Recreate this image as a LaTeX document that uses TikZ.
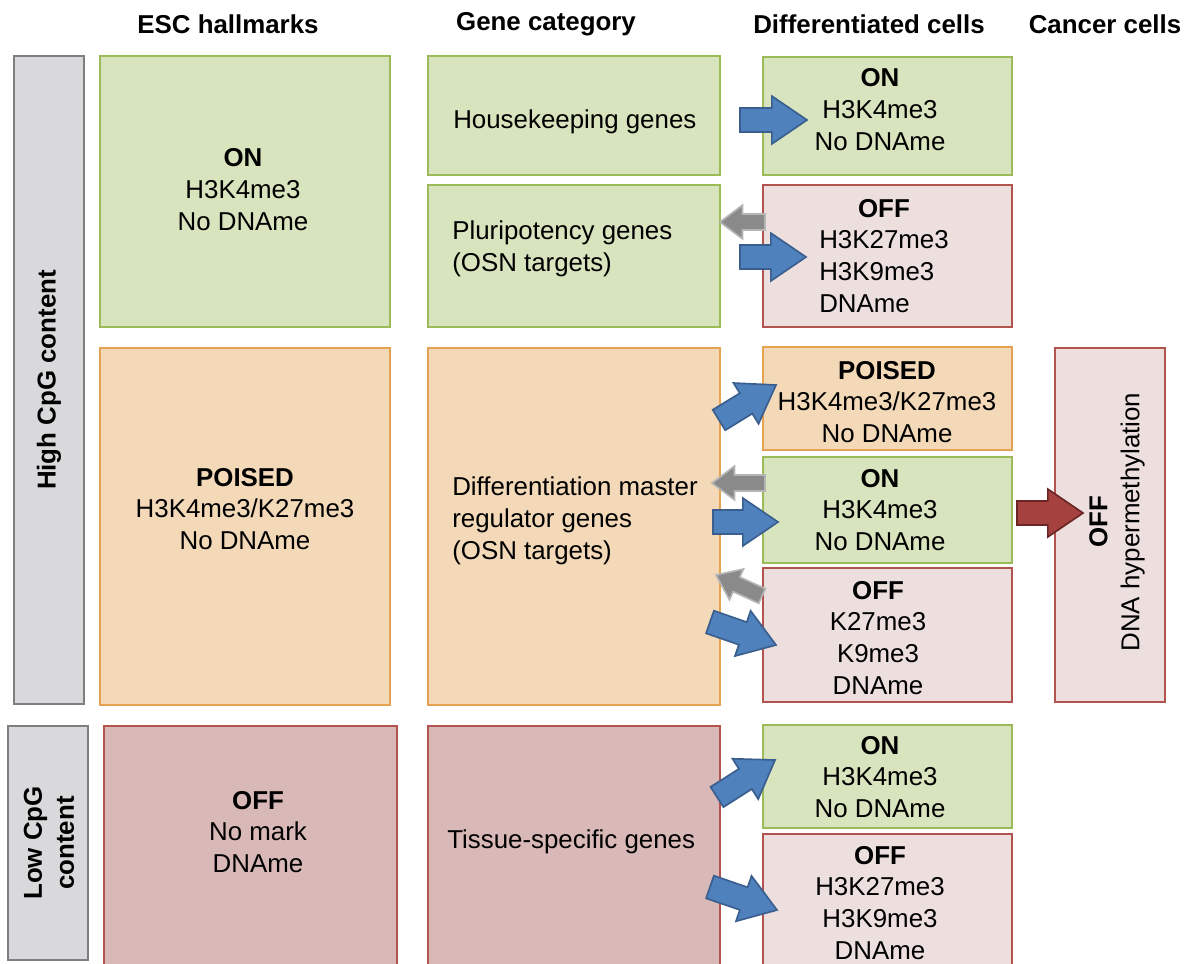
\documentclass[tikz,border=0pt]{standalone}
\usepackage{fontspec}
\setmainfont{Liberation Sans}
\usetikzlibrary{calc, fit}

\definecolor{grnfill}{HTML}{D7E4BD}
\definecolor{grnline}{HTML}{9BBB59}
\definecolor{orgfill}{HTML}{F3D9B8}
\definecolor{orgline}{HTML}{E5A250}
\definecolor{redfill}{HTML}{D9B9B7}
\definecolor{pinkfill}{HTML}{EDDFDE}
\definecolor{redline}{HTML}{B3534F}
\definecolor{barfill}{HTML}{D9D9DC}
\definecolor{barline}{HTML}{7F7F7F}
\definecolor{bluefill}{HTML}{4F81BD}
\definecolor{blueline}{HTML}{3A5F8F}
\definecolor{grayfill}{HTML}{8A8A8A}
\definecolor{grayline}{HTML}{B5B5B5}
\definecolor{darkred}{HTML}{A5423F}
\definecolor{darkredline}{HTML}{6B2624}

\newcommand{\bodyfont}{\fontsize{18.4}{22.7}\selectfont}

% block arrow: style, from, to, shaft half width, head half width, head length
\newcommand{\blkarrow}[6]{%
  \coordinate (hd) at ($(#3)!#6!(#2)$);
  \draw[#1] ($(#2)!#4!90:(#3)$) -- ($(hd)!#4!90:(#3)$) -- ($(hd)!#5!90:(#3)$) -- (#3)
    -- ($(hd)!#5!-90:(#3)$) -- ($(hd)!#4!-90:(#3)$) -- ($(#2)!#4!-90:(#3)$) -- cycle;}

\begin{document}
\begin{tikzpicture}[x=0.025cm, y=-0.025cm,
    box/.style={draw, rectangle, line width=2pt, inner sep=0pt},
    greenbox/.style={box, draw=grnline, fill=grnfill},
    orangebox/.style={box, draw=orgline, fill=orgfill},
    redbox/.style={box, draw=redline, fill=redfill},
    pinkbox/.style={box, draw=redline, fill=pinkfill},
    barbox/.style={box, draw=barline, fill=barfill},
    txt/.style={align=center, inner sep=0pt, font=\bodyfont},
    hdr/.style={inner sep=0pt, font=\bodyfont\bfseries},
    bluearr/.style={draw=blueline, fill=bluefill, line width=1.2pt, line join=miter},
    grayarr/.style={draw=grayline, fill=grayfill, line width=1.2pt, line join=miter},
    redarr/.style={draw=darkredline, fill=darkred, line width=1.2pt, line join=miter}]

  \useasboundingbox (0,0) rectangle (1194,963);
  \clip (0,0) rectangle (1194,963);

  % column headers
  \node[hdr] (h1) at (228,24) {ESC hallmarks};
  \node[hdr] (h2) at (546,24) {Gene category};
  \node[hdr] (h3) at (869,24) {Differentiated cells};
  \node[hdr] (h4) at (1105,24) {Cancer cells};

  % CpG bars
  \node[barbox, fit={(14,56) (84,704)}] (highbar) {};
  \node[barbox, fit={(8,726) (88,960)}] (lowbar) {};
  \node[hdr, rotate=90] (hight) at (49,380) {High CpG content};
  \node[hdr, rotate=90, align=center] (lowt) at (49,843) {Low CpG\\content};

  % ESC hallmarks
  \node[greenbox, fit={(100,56) (390,327)}] (escon) {};
  \node[orangebox, fit={(100,348) (390,705)}] (escpo) {};
  \node[redbox, fit={(104,726) (397,980)}] (escoff) {};
  \node[txt] (escon-t) at (243,190) {\textbf{ON}\\H3K4me3\\No DNAme};
  \node[txt] (escpo-t) at (245,509) {\textbf{POISED}\\H3K4me3/K27me3\\No DNAme};
  \node[txt] (escoff-t) at (258,832) {\textbf{OFF}\\No mark\\DNAme};

  % gene categories
  \node[greenbox, fit={(428,56) (720,175)}] (hk) {};
  \node[greenbox, fit={(428,185) (720,327)}] (pluri) {};
  \node[orangebox, fit={(428,348) (720,705)}] (dm) {};
  \node[redbox, fit={(428,726) (720,980)}] (tis) {};
  \node[txt, anchor=west] (hk-t) at (453,122) {Housekeeping genes};
  \node[txt, anchor=west, align=left] (pluri-t) at (452,249) {Pluripotency genes\\(OSN targets)};
  \node[txt, anchor=west, align=left] (dm-t) at (452,521) {Differentiation master\\regulator genes\\(OSN targets)};
  \node[txt, anchor=west] (tis-t) at (447,842) {Tissue-specific genes};

  % differentiated cells
  \node[greenbox, fit={(763,57) (1012,175)}] (don1) {};
  \node[pinkbox, fit={(763,185) (1012,327)}] (doff1) {};
  \node[orangebox, fit={(763,347) (1012,450)}] (dpo) {};
  \node[greenbox, fit={(763,457) (1012,563)}] (don2) {};
  \node[pinkbox, fit={(763,568) (1012,702)}] (doff2) {};
  \node[greenbox, fit={(763,725) (1012,828)}] (don3) {};
  \node[pinkbox, fit={(763,834) (1012,980)}] (doff3) {};
  \node[txt] (don1-t) at (880,110) {\textbf{ON}\\H3K4me3\\No DNAme};
  \node[txt, align=left] (doff1-t) at (884,256) {\hspace*{1.5em}\textbf{OFF}\\H3K27me3\\H3K9me3\\DNAme};
  \node[txt] (dpo-t) at (887,402) {\textbf{POISED}\\H3K4me3/K27me3\\No DNAme};
  \node[txt] (don2-t) at (880,510) {\textbf{ON}\\H3K4me3\\No DNAme};
  \node[txt] (doff2-t) at (878,638) {\textbf{OFF}\\K27me3\\K9me3\\DNAme};
  \node[txt] (don3-t) at (880,777) {\textbf{ON}\\H3K4me3\\No DNAme};
  \node[txt] (doff3-t) at (880,903) {\textbf{OFF}\\H3K27me3\\H3K9me3\\DNAme};

  % cancer cells
  \node[pinkbox, fit={(1055,348) (1165,702)}] (canc) {};
  \node[txt, rotate=90] (canc-t) at (1117,522) {\textbf{OFF}\\DNA hypermethylation};

  % arrows
  \coordinate (a1s) at (740,120);  \coordinate (a1e) at (807,120);
  \coordinate (a2s) at (765,222);  \coordinate (a2e) at (720,222);
  \coordinate (a3s) at (740,257);  \coordinate (a3e) at (806,257);
  \coordinate (a4s) at (719,420);  \coordinate (a4e) at (776,385);
  \coordinate (a5s) at (765,483);  \coordinate (a5e) at (712,483);
  \coordinate (a6s) at (713,522);  \coordinate (a6e) at (778,522);
  \coordinate (a7s) at (762,596);  \coordinate (a7e) at (716,575);
  \coordinate (a8s) at (710,622);  \coordinate (a8e) at (776,645);
  \coordinate (a9s) at (717,797);  \coordinate (a9e) at (775,760);
  \coordinate (a10s) at (710,887); \coordinate (a10e) at (777,910);
  \coordinate (a11s) at (1017,513); \coordinate (a11e) at (1083,513);

  \blkarrow{bluearr}{a1s}{a1e}{8.5pt}{17pt}{25pt}
  \blkarrow{grayarr}{a2s}{a2e}{5.7pt}{12pt}{16pt}
  \blkarrow{bluearr}{a3s}{a3e}{8.5pt}{17pt}{25pt}
  \blkarrow{bluearr}{a4s}{a4e}{8.5pt}{17pt}{25pt}
  \blkarrow{grayarr}{a5s}{a5e}{5.7pt}{12pt}{16pt}
  \blkarrow{bluearr}{a6s}{a6e}{8.5pt}{17pt}{25pt}
  \blkarrow{grayarr}{a7s}{a7e}{5.7pt}{12pt}{16pt}
  \blkarrow{bluearr}{a8s}{a8e}{8.5pt}{17pt}{25pt}
  \blkarrow{bluearr}{a9s}{a9e}{8.5pt}{17pt}{25pt}
  \blkarrow{bluearr}{a10s}{a10e}{8.5pt}{17pt}{25pt}
  \blkarrow{redarr}{a11s}{a11e}{8.5pt}{17pt}{25pt}
\end{tikzpicture}
\end{document}
